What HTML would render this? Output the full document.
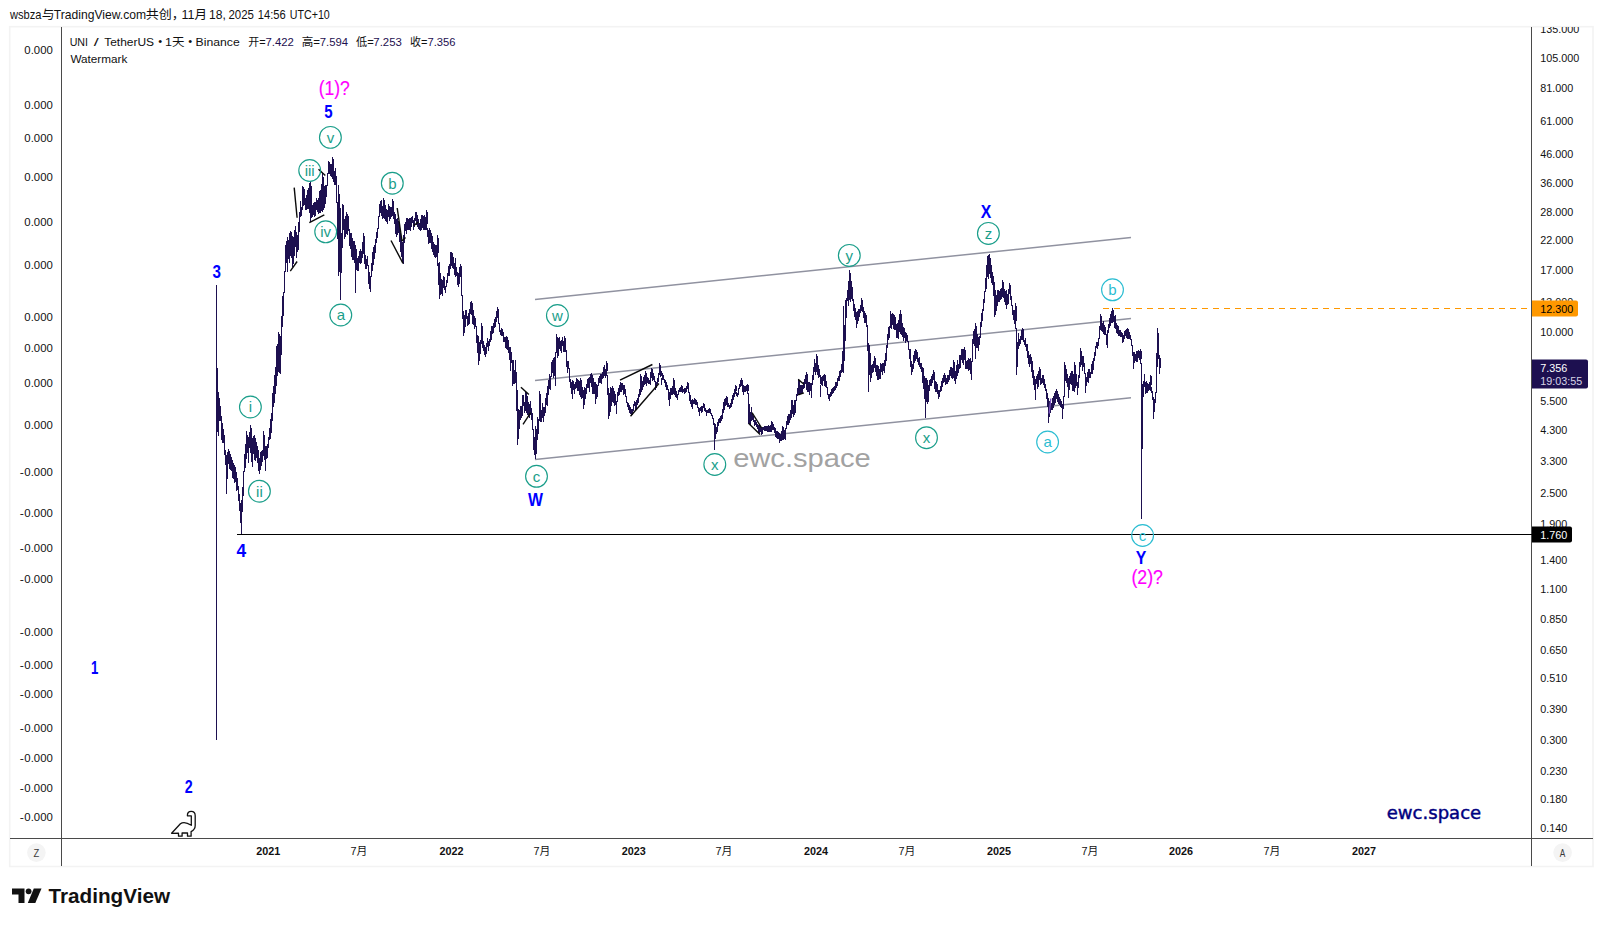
<!DOCTYPE html><html><head><meta charset="utf-8"><title>UNI / TetherUS</title>
<style>html,body{margin:0;padding:0;background:#fff;}body{width:1603px;height:926px;overflow:hidden;position:relative;font-family:"Liberation Sans", "Noto Sans CJK SC", sans-serif;}
svg{position:absolute;left:0;top:0;}text{font-family:"Liberation Sans", "Noto Sans CJK SC", sans-serif;}
.ax{font-size:10.8px;fill:#111;}.axb{font-size:10.8px;font-weight:bold;fill:#111;}
</style></head><body>
<svg width="1603" height="926" viewBox="0 0 1603 926">
<rect x="9.7" y="26.7" width="1583.3" height="839.8" fill="#fff" stroke="#f3f3f3" stroke-width="1.6"/>
<g stroke="#4a4a4a" stroke-width="1" shape-rendering="crispEdges">
<line x1="61.5" y1="27" x2="61.5" y2="866"/>
<line x1="1531.5" y1="27" x2="1531.5" y2="866"/>
<line x1="10" y1="838.5" x2="1593" y2="838.5"/>
</g>
<clipPath id="cr"><rect x="1532" y="27" width="61" height="812"/></clipPath><g clip-path="url(#cr)">
<text class="ax" x="1540.2" y="33.0">135.000</text>
<text class="ax" x="1540.2" y="62.0">105.000</text>
<text class="ax" x="1540.2" y="92.0">81.000</text>
<text class="ax" x="1540.2" y="125.0">61.000</text>
<text class="ax" x="1540.2" y="158.0">46.000</text>
<text class="ax" x="1540.2" y="187.0">36.000</text>
<text class="ax" x="1540.2" y="216.0">28.000</text>
<text class="ax" x="1540.2" y="244.0">22.000</text>
<text class="ax" x="1540.2" y="274.0">17.000</text>
<text class="ax" x="1540.2" y="306.0">13.000</text>
<text class="ax" x="1540.2" y="336.0">10.000</text>
<text class="ax" x="1540.2" y="405.0">5.500</text>
<text class="ax" x="1540.2" y="434.0">4.300</text>
<text class="ax" x="1540.2" y="465.0">3.300</text>
<text class="ax" x="1540.2" y="497.0">2.500</text>
<text class="ax" x="1540.2" y="528.0">1.900</text>
<text class="ax" x="1540.2" y="564.0">1.400</text>
<text class="ax" x="1540.2" y="593.0">1.100</text>
<text class="ax" x="1540.2" y="623.0">0.850</text>
<text class="ax" x="1540.2" y="654.0">0.650</text>
<text class="ax" x="1540.2" y="682.0">0.510</text>
<text class="ax" x="1540.2" y="713.0">0.390</text>
<text class="ax" x="1540.2" y="744.0">0.300</text>
<text class="ax" x="1540.2" y="774.8">0.230</text>
<text class="ax" x="1540.2" y="802.8">0.180</text>
<text class="ax" x="1540.2" y="832.0">0.140</text>
</g>
<text class="axb" x="268.2" y="855" text-anchor="middle">2021</text>
<text class="ax" x="358.8" y="855" text-anchor="middle">7月</text>
<text class="axb" x="451.6" y="855" text-anchor="middle">2022</text>
<text class="ax" x="541.8" y="855" text-anchor="middle">7月</text>
<text class="axb" x="633.8" y="855" text-anchor="middle">2023</text>
<text class="ax" x="724.0" y="855" text-anchor="middle">7月</text>
<text class="axb" x="816.0" y="855" text-anchor="middle">2024</text>
<text class="ax" x="907.0" y="855" text-anchor="middle">7月</text>
<text class="axb" x="999.0" y="855" text-anchor="middle">2025</text>
<text class="ax" x="1090.0" y="855" text-anchor="middle">7月</text>
<text class="axb" x="1181.0" y="855" text-anchor="middle">2026</text>
<text class="ax" x="1272.0" y="855" text-anchor="middle">7月</text>
<text class="axb" x="1364.0" y="855" text-anchor="middle">2027</text>
<g stroke="#9092a0" stroke-width="1.5" fill="none">
<line x1="535" y1="299.4" x2="1131" y2="237.5"/>
<line x1="535" y1="380.4" x2="1131" y2="318.5"/>
<line x1="535" y1="459.6" x2="1131" y2="397.7"/>
</g>
<line x1="237" y1="534.5" x2="1532" y2="534.5" stroke="#000" stroke-width="1" shape-rendering="crispEdges"/>
<line x1="1103" y1="308.5" x2="1532" y2="308.5" stroke="#ff9800" stroke-width="1" stroke-dasharray="5.5 5.5" shape-rendering="crispEdges"/>
<path d="M216.5 285V739.5M217.5 368.0V431.6M218.5 392.0V436.4M219.5 397.5V420.6M220.5 405.6V421.3M221.5 416.3V439.5M222.5 422.9V443.2M223.5 429.1V443.3M224.5 434.5V454.8M225.5 450.2V465.2M226.5 464.2V491.4M227.5 452.0V478.6M228.5 449.3V463.6M229.5 457.0V469.1M230.5 454.1V469.5M231.5 457.1V470.9M232.5 460.3V477.6M233.5 463.2V478.5M234.5 465.3V482.6M235.5 467.3V481.9M236.5 472.1V490.5M237.5 478.2V489.8M238.5 486.1V500.7M239.5 494.3V511.4M240.5 502.9V523.1M241.5 500.2V530.2M242.5 487.2V511.5M243.5 470.5V496.1M244.5 453.8V471.5M245.5 444.0V468.2M246.5 436.9V459.3M247.5 436.2V452.2M248.5 437.3V451.3M249.5 432.1V447.6M250.5 425.9V452.7M251.5 434.6V462.4M252.5 438.0V461.5M253.5 436.1V453.9M254.5 442.0V459.8M255.5 441.5V461.1M256.5 442.1V457.5M257.5 445.7V463.0M258.5 449.8V470.6M259.5 458.2V473.6M260.5 452.3V469.5M261.5 450.9V465.5M262.5 450.3V462.3M263.5 438.6V455.8M264.5 440.1V459.9M265.5 446.4V461.3M266.5 445.6V459.4M267.5 444.0V457.6M268.5 436.8V448.2M269.5 428.4V439.8M270.5 418.6V438.9M271.5 413.2V432.8M272.5 393.2V420.7M273.5 385.5V406.6M274.5 375.1V402.5M275.5 366.6V394.2M276.5 346.3V386.1M277.5 343.6V376.4M278.5 342.4V372.2M279.5 334.1V373.0M280.5 335.8V373.9M281.5 315.8V354.9M282.5 295.9V327.3M283.5 292.2V315.6M284.5 270.9V293.2M285.5 245.1V271.9M286.5 240.8V263.4M287.5 237.0V262.6M288.5 239.8V259.3M289.5 232.7V262.8M290.5 231.1V256.0M291.5 231.9V254.6M292.5 236.4V266.7M293.5 237.3V263.9M294.5 230.4V256.4M295.5 226.3V246.9M296.5 231.5V258.0M297.5 234.9V252.0M298.5 221.6V250.0M299.5 211.9V232.0M300.5 200.8V216.7M301.5 207.4V216.2M302.5 190.9V210.3M303.5 187.1V205.7M304.5 188.7V204.9M305.5 197.6V210.2M306.5 194.7V209.5M307.5 189.9V209.3M308.5 188.1V209.0M309.5 182.6V213.2M310.5 190.8V218.9M311.5 199.8V218.3M312.5 204.8V216.6M313.5 203.2V214.5M314.5 202.2V217.1M315.5 201.6V215.7M316.5 198.2V210.2M317.5 200.3V211.6M318.5 197.8V213.6M319.5 190.7V213.2M320.5 190.2V212.8M321.5 183.8V211.3M322.5 179.1V211.6M323.5 177.1V209.6M324.5 185.7V207.6M325.5 184.5V204.4M326.5 185.1V196.5M327.5 172.9V186.1M328.5 160.6V174.3M329.5 161.5V173.6M330.5 164.1V175.9M331.5 163.6V176.6M332.5 166.3V178.7M333.5 166.4V182.1M334.5 171.3V185.4M335.5 168.1V185.3M336.5 176.4V203.0M337.5 202.0V239.3M338.5 191.0V265.2M339.5 194.3V272.1M340.5 207.8V250.0M341.5 233.1V273.0M342.5 223.3V248.4M343.5 204.7V226.6M344.5 218.9V239.2M345.5 215.8V236.5M346.5 211.6V233.8M347.5 213.8V234.6M348.5 215.6V230.6M349.5 229.4V245.9M350.5 232.7V249.0M351.5 233.3V257.0M352.5 238.2V260.4M353.5 240.5V259.6M354.5 241.1V263.4M355.5 245.4V267.2M356.5 249.4V269.9M357.5 257.7V271.0M358.5 255.6V270.6M359.5 250.8V262.7M360.5 248.9V263.9M361.5 251.3V263.3M362.5 242.1V257.8M363.5 234.7V254.0M364.5 245.2V263.8M365.5 254.8V269.2M366.5 258.5V269.4M367.5 256.1V266.2M368.5 265.2V283.9M369.5 272.4V289.0M370.5 275.9V288.2M371.5 263.2V277.0M372.5 251.6V271.1M373.5 247.4V265.4M374.5 245.3V258.6M375.5 238.7V252.8M376.5 232.4V242.5M377.5 227.5V237.6M378.5 215.6V228.5M379.5 204.0V216.6M380.5 201.1V212.6M381.5 199.9V215.7M382.5 206.0V218.6M383.5 202.8V218.0M384.5 206.7V218.7M385.5 205.4V220.9M386.5 209.1V222.3M387.5 209.6V222.5M388.5 204.4V217.2M389.5 206.3V221.0M390.5 206.5V219.3M391.5 207.0V217.4M392.5 202.3V216.1M393.5 204.2V218.5M394.5 211.7V224.2M395.5 214.1V233.9M396.5 218.9V237.0M397.5 218.3V235.0M398.5 221.3V233.3M399.5 224.5V241.8M400.5 233.3V251.6M401.5 240.1V256.9M402.5 242.4V261.9M403.5 242.4V258.7M404.5 224.4V243.4M405.5 222.0V230.7M406.5 220.0V234.3M407.5 217.8V229.4M408.5 218.5V229.8M409.5 218.1V230.0M410.5 217.8V230.5M411.5 217.0V227.2M412.5 215.8V222.5M413.5 219.9V230.0M414.5 217.6V227.3M415.5 212.2V220.5M416.5 212.0V224.9M417.5 215.0V226.8M418.5 219.4V229.4M419.5 222.5V230.3M420.5 219.3V229.6M421.5 214.8V229.6M422.5 215.2V227.7M423.5 216.1V230.2M424.5 215.4V229.9M425.5 217.4V229.6M426.5 217.1V230.1M427.5 228.2V236.8M428.5 230.0V243.6M429.5 228.0V242.8M430.5 230.4V242.8M431.5 233.2V249.4M432.5 235.6V251.5M433.5 241.7V255.2M434.5 243.6V256.7M435.5 245.0V258.2M436.5 244.5V257.0M437.5 244.8V266.4M438.5 263.2V284.6M439.5 262.5V290.2M440.5 272.6V294.9M441.5 278.5V293.8M442.5 280.3V295.9M443.5 276.3V287.9M444.5 276.8V290.1M445.5 285.6V292.9M446.5 279.5V287.1M447.5 272.9V282.5M448.5 265.7V276.3M449.5 263.8V276.4M450.5 258.9V269.2M451.5 252.3V265.3M452.5 252.6V268.1M453.5 257.2V268.6M454.5 262.9V274.7M455.5 258.2V277.1M456.5 267.4V275.7M457.5 271.9V285.2M458.5 273.4V284.2M459.5 267.3V284.1M460.5 264.1V276.8M461.5 275.8V296.2M462.5 295.2V319.3M463.5 310.9V334.7M464.5 315.2V333.4M465.5 310.0V326.5M466.5 309.6V319.0M467.5 315.8V325.5M468.5 312.7V325.3M469.5 309.0V323.5M470.5 302.3V313.9M471.5 304.9V314.6M472.5 307.4V324.2M473.5 310.3V324.7M474.5 315.9V328.7M475.5 318.0V327.0M476.5 326.0V343.0M477.5 334.8V352.5M478.5 336.9V351.3M479.5 342.3V360.6M480.5 339.9V353.6M481.5 329.4V344.2M482.5 330.7V348.3M483.5 340.6V351.2M484.5 344.8V354.6M485.5 346.6V356.2M486.5 342.7V354.4M487.5 338.0V346.9M488.5 341.0V350.7M489.5 339.4V346.4M490.5 331.0V342.4M491.5 326.4V340.3M492.5 325.6V334.4M493.5 322.9V332.7M494.5 319.0V328.4M495.5 317.0V326.5M496.5 310.8V321.7M497.5 306.5V315.7M498.5 314.0V323.7M499.5 322.7V331.9M500.5 329.8V334.8M501.5 328.4V336.4M502.5 329.2V336.1M503.5 332.0V341.5M504.5 336.7V342.2M505.5 337.2V348.1M506.5 336.0V348.9M507.5 337.3V350.0M508.5 340.4V353.2M509.5 347.3V359.8M510.5 347.4V371.0M511.5 352.1V362.5M512.5 360.0V378.9M513.5 360.2V384.2M514.5 369.8V383.5M515.5 360.3V382.7M516.5 371.8V410.7M517.5 400.1V437.8M518.5 408.5V439.1M519.5 409.8V429.2M520.5 406.4V420.4M521.5 406.0V418.0M522.5 395.4V416.4M523.5 395.0V406.1M524.5 401.6V413.1M525.5 399.9V411.4M526.5 397.9V413.4M527.5 396.0V415.2M528.5 402.0V416.9M529.5 403.5V418.1M530.5 400.6V415.2M531.5 407.8V420.2M532.5 413.1V429.8M533.5 428.8V450.0M534.5 436.6V455.1M535.5 426.0V449.8M536.5 428.6V453.6M537.5 417.0V440.0M538.5 418.7V434.3M539.5 393.5V420.6M540.5 398.7V421.5M541.5 410.3V421.8M542.5 402.6V418.0M543.5 406.9V418.0M544.5 406.6V416.1M545.5 397.9V412.7M546.5 392.6V404.6M547.5 386.1V405.6M548.5 380.0V395.4M549.5 374.0V389.1M550.5 375.5V389.7M551.5 362.0V376.5M552.5 360.0V373.2M553.5 358.0V378.3M554.5 356.5V376.2M555.5 352.1V376.8M556.5 337.4V353.1M557.5 341.0V357.7M558.5 338.2V356.1M559.5 336.6V348.7M560.5 340.8V350.8M561.5 339.8V352.8M562.5 336.7V345.7M563.5 340.5V351.5M564.5 341.5V352.2M565.5 341.5V352.3M566.5 349.6V366.5M567.5 360.6V372.5M568.5 361.1V369.4M569.5 368.4V382.2M570.5 379.3V388.4M571.5 381.9V394.3M572.5 379.8V396.1M573.5 380.6V390.2M574.5 383.7V393.9M575.5 381.8V389.2M576.5 377.8V387.5M577.5 380.9V390.8M578.5 379.5V391.1M579.5 380.8V394.5M580.5 383.7V397.2M581.5 384.2V398.9M582.5 386.6V397.9M583.5 389.7V402.8M584.5 387.1V404.7M585.5 388.1V399.3M586.5 384.4V394.3M587.5 379.3V388.3M588.5 378.2V388.2M589.5 376.5V391.5M590.5 374.0V383.2M591.5 372.7V387.4M592.5 375.8V394.1M593.5 378.4V393.9M594.5 381.5V393.8M595.5 382.3V392.9M596.5 384.3V399.4M597.5 384.5V396.5M598.5 377.8V385.5M599.5 375.7V383.2M600.5 373.5V382.9M601.5 373.5V383.9M602.5 371.8V379.2M603.5 367.0V378.3M604.5 365.2V375.9M605.5 368.6V377.5M606.5 367.1V375.5M607.5 374.5V394.6M608.5 393.6V419.0M609.5 392.5V415.7M610.5 387.2V411.8M611.5 387.9V405.9M612.5 388.1V402.4M613.5 388.5V403.1M614.5 391.2V406.4M615.5 393.8V405.0M616.5 401.4V409.7M617.5 391.5V402.4M618.5 387.7V395.7M619.5 385.3V394.7M620.5 384.2V391.7M621.5 382.6V390.2M622.5 383.3V389.9M623.5 384.6V394.7M624.5 384.7V394.3M625.5 389.1V396.9M626.5 395.9V403.4M627.5 401.7V406.5M628.5 402.8V409.8M629.5 404.5V412.5M630.5 406.5V414.4M631.5 411.1V415.7M632.5 408.7V414.7M633.5 403.9V411.4M634.5 401.4V406.2M635.5 402.1V409.6M636.5 400.2V410.2M637.5 398.2V405.3M638.5 394.3V403.2M639.5 388.8V397.1M640.5 381.9V395.0M641.5 379.8V392.3M642.5 381.4V389.5M643.5 376.6V387.2M644.5 374.8V385.1M645.5 372.6V383.7M646.5 375.6V386.4M647.5 377.3V383.3M648.5 377.5V384.0M649.5 379.6V384.3M650.5 372.0V382.3M651.5 368.8V378.4M652.5 374.2V380.5M653.5 373.2V380.3M654.5 375.9V382.2M655.5 381.2V388.1M656.5 382.1V387.9M657.5 378.3V384.1M658.5 373.3V381.5M659.5 368.7V375.3M660.5 366.4V377.2M661.5 370.7V376.4M662.5 373.2V380.4M663.5 374.5V379.7M664.5 378.6V383.3M665.5 380.2V386.9M666.5 382.2V390.0M667.5 384.5V390.0M668.5 389.0V400.0M669.5 392.4V404.2M670.5 387.9V398.6M671.5 387.6V395.1M672.5 386.1V394.9M673.5 385.8V393.8M674.5 385.2V395.3M675.5 387.8V397.1M676.5 390.6V397.8M677.5 393.5V397.6M678.5 389.6V395.0M679.5 387.9V392.3M680.5 387.0V392.2M681.5 388.5V392.0M682.5 388.1V393.2M683.5 388.5V392.4M684.5 388.2V391.9M685.5 387.7V392.7M686.5 385.9V391.5M687.5 383.7V389.0M688.5 387.5V393.3M689.5 392.3V400.9M690.5 395.0V403.9M691.5 400.0V406.6M692.5 398.7V405.2M693.5 400.2V403.5M694.5 399.9V404.1M695.5 399.9V405.3M696.5 399.5V404.6M697.5 402.2V407.8M698.5 406.8V412.3M699.5 408.2V415.5M700.5 406.5V411.2M701.5 405.9V412.5M702.5 405.5V411.7M703.5 404.2V408.0M704.5 406.2V411.2M705.5 408.4V411.6M706.5 410.2V413.2M707.5 409.7V412.7M708.5 409.4V412.8M709.5 410.3V413.3M710.5 410.8V414.4M711.5 412.9V416.3M712.5 415.3V419.3M713.5 418.3V425.0M714.5 423.0V443.2M715.5 423.5V439.4M716.5 426.8V434.4M717.5 421.5V431.5M718.5 418.7V426.3M719.5 417.8V422.8M720.5 415.9V422.9M721.5 414.5V421.1M722.5 408.5V418.9M723.5 402.3V412.8M724.5 398.7V410.1M725.5 397.6V406.0M726.5 397.2V404.8M727.5 399.0V407.0M728.5 402.6V407.3M729.5 404.9V408.6M730.5 402.7V408.2M731.5 399.3V406.8M732.5 395.2V403.9M733.5 392.6V400.4M734.5 388.5V396.8M735.5 387.7V394.1M736.5 391.8V395.6M737.5 393.8V396.8M738.5 388.4V394.8M739.5 384.1V389.4M740.5 380.4V386.6M741.5 378.8V386.4M742.5 384.0V391.9M743.5 385.4V392.0M744.5 386.3V391.6M745.5 386.0V391.9M746.5 384.8V390.9M747.5 386.0V394.1M748.5 393.1V415.1M749.5 403.6V424.3M750.5 411.6V424.7M751.5 407.4V421.4M752.5 412.6V420.3M753.5 415.7V422.4M754.5 419.7V426.2M755.5 419.9V425.3M756.5 421.6V427.2M757.5 423.6V429.1M758.5 424.7V432.7M759.5 425.4V433.1M760.5 426.2V431.5M761.5 428.1V433.0M762.5 426.9V434.1M763.5 426.5V429.5M764.5 426.1V431.1M765.5 426.3V431.2M766.5 425.9V431.2M767.5 425.8V432.0M768.5 424.9V432.0M769.5 425.9V432.0M770.5 425.0V432.0M771.5 422.5V432.0M772.5 424.3V430.0M773.5 424.1V430.2M774.5 426.9V433.0M775.5 428.2V436.5M776.5 431.2V438.0M777.5 430.7V438.7M778.5 432.4V439.1M779.5 433.3V441.2M780.5 433.6V440.9M781.5 430.5V441.2M782.5 430.2V440.4M783.5 429.6V440.2M784.5 429.8V439.2M785.5 428.3V436.2M786.5 421.1V429.3M787.5 416.0V424.6M788.5 414.0V424.9M789.5 413.5V422.8M790.5 409.9V420.4M791.5 403.4V418.0M792.5 400.3V413.6M793.5 405.1V416.8M794.5 400.4V414.8M795.5 399.7V412.6M796.5 393.5V401.1M797.5 388.0V395.6M798.5 382.5V394.7M799.5 384.3V394.4M800.5 385.4V394.0M801.5 385.4V393.7M802.5 385.3V393.2M803.5 381.8V388.8M804.5 379.2V388.2M805.5 374.8V384.2M806.5 375.2V390.3M807.5 382.4V392.0M808.5 381.7V391.7M809.5 381.5V395.0M810.5 383.1V391.0M811.5 382.6V390.6M812.5 374.5V384.6M813.5 366.5V379.6M814.5 359.0V371.7M815.5 362.6V374.7M816.5 363.2V372.2M817.5 364.8V375.1M818.5 364.8V378.4M819.5 369.2V377.0M820.5 374.8V384.3M821.5 376.5V384.6M822.5 375.7V385.5M823.5 374.9V380.7M824.5 376.0V386.1M825.5 377.8V386.6M826.5 380.5V387.6M827.5 386.6V394.8M828.5 393.8V398.6M829.5 394.3V399.7M830.5 391.7V397.3M831.5 389.2V395.9M832.5 387.7V394.0M833.5 387.3V393.3M834.5 385.9V391.3M835.5 382.3V389.8M836.5 382.0V387.5M837.5 377.8V385.6M838.5 375.8V380.5M839.5 371.4V380.6M840.5 370.1V377.0M841.5 363.7V373.4M842.5 351.0V372.3M843.5 340.9V371.0M844.5 325.0V360.7M845.5 300.2V341.0M846.5 297.9V318.3M847.5 290.2V300.9M848.5 281.1V305.7M849.5 277.0V299.8M850.5 281.8V301.8M851.5 281.3V298.7M852.5 286.6V301.4M853.5 299.1V310.7M854.5 303.9V316.7M855.5 307.8V320.2M856.5 311.8V327.3M857.5 311.0V324.1M858.5 309.4V320.5M859.5 309.3V317.0M860.5 304.6V313.4M861.5 301.4V310.7M862.5 305.4V311.7M863.5 306.9V317.9M864.5 310.7V322.9M865.5 312.9V323.3M866.5 314.8V327.0M867.5 324.7V351.1M868.5 342.5V364.2M869.5 345.1V374.8M870.5 352.8V382.0M871.5 365.0V377.5M872.5 364.2V373.0M873.5 361.4V371.7M874.5 355.5V368.4M875.5 358.0V371.8M876.5 365.0V376.3M877.5 364.5V378.4M878.5 366.2V379.7M879.5 368.5V379.4M880.5 362.8V379.0M881.5 363.5V371.8M882.5 362.5V374.7M883.5 363.3V371.3M884.5 360.1V373.0M885.5 353.2V366.3M886.5 345.0V361.1M887.5 334.2V348.1M888.5 327.2V339.7M889.5 326.3V337.5M890.5 315.2V328.2M891.5 314.2V328.5M892.5 313.0V325.3M893.5 313.9V329.1M894.5 314.9V329.6M895.5 317.0V329.6M896.5 323.7V337.9M897.5 322.6V338.4M898.5 319.7V338.9M899.5 313.9V332.4M900.5 314.7V333.8M901.5 316.4V335.4M902.5 323.3V337.2M903.5 326.6V341.4M904.5 327.8V337.6M905.5 331.6V343.0M906.5 333.1V340.9M907.5 335.0V342.0M908.5 340.5V349.7M909.5 348.7V359.0M910.5 348.6V366.6M911.5 361.5V373.5M912.5 363.6V371.7M913.5 355.3V369.2M914.5 350.5V363.4M915.5 351.0V361.1M916.5 350.4V358.7M917.5 352.0V361.9M918.5 357.7V364.8M919.5 357.0V366.8M920.5 362.8V369.3M921.5 362.7V371.9M922.5 366.6V383.0M923.5 368.3V389.4M924.5 375.7V398.7M925.5 377.9V397.9M926.5 378.4V401.7M927.5 380.4V404.1M928.5 385.0V402.0M929.5 379.9V390.7M930.5 378.7V386.2M931.5 375.7V386.2M932.5 373.7V383.3M933.5 369.8V379.8M934.5 372.9V388.7M935.5 381.1V392.1M936.5 382.3V391.8M937.5 384.3V394.2M938.5 390.3V398.8M939.5 390.3V396.8M940.5 385.5V391.8M941.5 381.0V390.8M942.5 377.6V386.5M943.5 374.9V382.7M944.5 372.9V381.5M945.5 374.7V384.6M946.5 377.5V383.6M947.5 375.2V384.1M948.5 374.7V381.6M949.5 369.5V379.8M950.5 367.3V376.1M951.5 366.5V377.6M952.5 367.9V378.7M953.5 365.9V378.3M954.5 367.4V381.0M955.5 370.6V379.6M956.5 365.0V378.8M957.5 359.8V375.7M958.5 364.1V372.7M959.5 355.3V369.0M960.5 354.9V368.3M961.5 349.2V359.6M962.5 349.2V363.1M963.5 349.3V365.0M964.5 347.0V358.9M965.5 350.7V368.6M966.5 360.8V369.0M967.5 360.2V369.3M968.5 357.9V370.8M969.5 358.8V370.1M970.5 357.9V374.4M971.5 361.1V377.7M972.5 339.4V362.1M973.5 331.2V344.0M974.5 328.8V346.4M975.5 329.9V348.3M976.5 326.3V341.8M977.5 333.5V348.2M978.5 336.7V350.7M979.5 335.5V345.4M980.5 322.2V337.5M981.5 312.8V327.3M982.5 308.6V320.9M983.5 299.2V310.9M984.5 290.7V303.0M985.5 277.6V291.7M986.5 264.5V289.0M987.5 256.2V276.5M988.5 255.2V278.9M989.5 255.4V273.2M990.5 259.7V273.4M991.5 264.5V283.2M992.5 272.4V285.1M993.5 275.8V296.3M994.5 281.6V307.0M995.5 289.6V314.5M996.5 294.8V311.1M997.5 290.0V306.2M998.5 290.1V302.1M999.5 290.6V302.0M1000.5 289.3V300.3M1001.5 287.7V298.7M1002.5 287.5V297.0M1003.5 285.5V298.1M1004.5 289.0V301.6M1005.5 291.2V305.3M1006.5 290.3V303.6M1007.5 294.4V304.9M1008.5 288.8V303.5M1009.5 283.0V293.4M1010.5 287.8V300.4M1011.5 296.0V306.2M1012.5 305.2V315.2M1013.5 310.1V319.7M1014.5 310.3V324.1M1015.5 314.2V328.6M1016.5 327.6V363.8M1017.5 341.8V366.8M1018.5 332.5V349.3M1019.5 339.0V346.2M1020.5 335.5V344.2M1021.5 329.9V339.5M1022.5 332.1V340.2M1023.5 335.9V341.9M1024.5 339.8V344.6M1025.5 338.2V347.2M1026.5 343.6V350.8M1027.5 344.2V358.0M1028.5 350.5V364.1M1029.5 355.4V366.7M1030.5 354.3V363.5M1031.5 357.3V372.1M1032.5 361.1V377.8M1033.5 370.0V385.4M1034.5 376.4V389.8M1035.5 378.7V391.6M1036.5 375.6V383.8M1037.5 373.8V388.7M1038.5 371.0V386.8M1039.5 367.3V380.4M1040.5 376.2V384.6M1041.5 378.1V384.4M1042.5 375.1V383.1M1043.5 374.7V384.6M1044.5 379.4V388.0M1045.5 383.5V390.9M1046.5 389.3V398.7M1047.5 393.0V407.3M1048.5 397.8V410.0M1049.5 401.4V416.6M1050.5 398.8V412.8M1051.5 402.6V409.7M1052.5 398.2V410.2M1053.5 395.5V407.9M1054.5 393.3V404.7M1055.5 391.3V402.6M1056.5 389.6V399.3M1057.5 392.0V402.1M1058.5 394.3V404.1M1059.5 397.4V404.7M1060.5 399.1V407.1M1061.5 401.1V408.4M1062.5 403.7V413.1M1063.5 396.0V409.3M1064.5 368.5V397.0M1065.5 364.9V377.7M1066.5 369.4V383.3M1067.5 373.8V387.4M1068.5 378.3V390.9M1069.5 375.7V389.9M1070.5 373.1V383.8M1071.5 370.6V385.1M1072.5 371.3V391.3M1073.5 374.2V391.4M1074.5 376.2V391.6M1075.5 365.8V388.2M1076.5 373.8V386.1M1077.5 381.5V393.1M1078.5 374.8V387.8M1079.5 362.2V377.5M1080.5 351.0V367.1M1081.5 352.3V365.1M1082.5 355.7V370.9M1083.5 356.2V367.1M1084.5 362.7V374.1M1085.5 373.1V383.7M1086.5 376.8V385.8M1087.5 371.9V381.7M1088.5 369.1V382.7M1089.5 368.5V377.9M1090.5 371.8V377.8M1091.5 363.6V374.3M1092.5 361.1V373.7M1093.5 358.2V370.3M1094.5 352.3V361.4M1095.5 346.4V356.2M1096.5 341.8V347.6M1097.5 341.9V349.1M1098.5 338.4V346.2M1099.5 325.8V339.4M1100.5 315.1V330.0M1101.5 318.8V330.5M1102.5 322.9V332.0M1103.5 321.0V334.3M1104.5 325.2V335.3M1105.5 327.2V334.7M1106.5 333.7V344.8M1107.5 329.5V343.8M1108.5 323.6V332.9M1109.5 317.7V328.1M1110.5 314.0V325.5M1111.5 310.7V323.2M1112.5 307.6V323.0M1113.5 312.0V322.0M1114.5 315.7V328.2M1115.5 315.0V328.6M1116.5 322.9V332.8M1117.5 325.3V334.1M1118.5 325.7V335.5M1119.5 330.3V335.8M1120.5 330.3V336.6M1121.5 331.7V337.3M1122.5 332.9V339.9M1123.5 334.5V341.9M1124.5 330.5V338.5M1125.5 329.5V336.0M1126.5 329.1V338.1M1127.5 329.6V339.3M1128.5 330.5V339.3M1129.5 331.8V339.3M1130.5 335.1V340.1M1131.5 339.1V345.6M1132.5 344.6V356.3M1133.5 352.2V361.6M1134.5 352.2V362.8M1135.5 354.0V360.8M1136.5 351.2V362.4M1137.5 350.7V361.9M1138.5 350.1V358.3M1139.5 351.0V359.7M1140.5 353.9V363.7M1141.5 362.7V519.0M1142.5 383.8V449.2M1143.5 380.9V396.7M1144.5 374.4V386.6M1145.5 381.8V393.5M1146.5 381.4V393.0M1147.5 383.4V392.9M1148.5 383.6V391.3M1149.5 381.9V390.2M1150.5 382.4V390.6M1151.5 387.0V392.7M1152.5 391.3V399.9M1153.5 397.4V414.4M1154.5 399.1V412.2M1155.5 392.0V402.5M1156.5 353.4V393.0M1157.5 332.6V359.1M1158.5 344.7V359.1M1159.5 355.0V362.6M1160.5 358.0V368.3M226.5 468.6V494.0M228.5 449.3V459.2M229.5 451.3V460.9M241.5 515.4V534.0M246.5 431.0V450.0M247.5 434.8V453.1M248.5 447.6V462.6M250.5 425.0V441.0M251.5 428.2V443.7M252.5 450.3V467.3M254.5 434.5V449.5M255.5 437.5V452.0M259.5 461.7V474.4M263.5 431.3V448.2M264.5 434.7V451.0M265.5 456.4V470.5M278.5 332.0V356.0M279.5 336.8V360.0M280.5 351.2V374.0M287.5 251.0V272.0M290.5 231.0V254.4M291.5 235.7V258.3M302.5 186.0V199.2M303.5 188.6V201.4M310.5 181.0V205.6M311.5 185.9V209.7M310.5 197.4V222.0M322.5 173.0V196.4M323.5 177.7V200.3M332.5 156.5V168.8M333.5 159.0V170.8M340.5 244.8V300.0M342.5 204.0V226.2M343.5 208.4V229.9M355.5 264.0V292.6M363.5 233.0V247.2M364.5 235.8V249.5M370.5 277.4V291.6M383.5 198.0V209.9M384.5 200.4V211.9M387.5 213.0V223.6M392.5 199.0V210.3M393.5 201.3V212.2M403.5 244.4V264.4M406.5 217.8V228.1M407.5 219.9V229.8M415.5 212.0V221.3M416.5 213.9V222.8M420.5 219.6V231.0M426.5 210.0V221.6M427.5 212.3V223.6M437.5 235.0V250.3M438.5 238.1V252.8M439.5 276.1V299.4M450.5 252.0V263.7M451.5 254.3V265.6M458.5 276.2V287.0M460.5 263.7V274.6M461.5 265.9V276.4M463.5 319.1V336.0M471.5 301.0V312.8M472.5 303.4V314.8M478.5 346.1V364.8M481.5 323.0V337.2M482.5 325.8V339.5M485.5 347.7V357.0M497.5 306.5V318.2M498.5 308.8V320.1M512.5 366.8V385.5M517.5 409.3V445.0M525.5 390.7V403.1M526.5 393.2V405.2M535.5 440.0V459.4M539.5 390.7V409.4M540.5 394.4V412.5M543.5 412.3V421.8M555.5 366.8V385.5M556.5 333.7V349.2M557.5 336.8V351.8M564.5 335.8V345.4M565.5 337.7V347.0M572.5 386.0V398.5M576.5 377.7V385.5M577.5 379.3V386.8M580.5 377.7V388.7M581.5 379.9V390.5M583.5 396.4V409.0M591.5 372.6V383.5M592.5 374.8V385.3M595.5 391.3V403.7M606.5 361.0V369.4M607.5 362.7V370.8M608.5 398.9V419.0M612.5 385.5V397.8M613.5 388.0V399.9M616.5 403.2V414.0M620.5 381.6V390.2M621.5 383.3V391.7M631.5 409.1V415.9M640.5 373.9V385.2M641.5 376.2V387.1M645.5 371.3V381.5M646.5 373.3V383.2M650.5 377.7V384.5M651.5 367.8V375.1M652.5 369.3V376.3M655.5 384.8V389.8M659.5 362.9V371.8M660.5 364.7V373.3M661.5 377.5V385.2M669.5 395.5V406.4M673.5 378.0V387.8M674.5 380.0V389.4M677.5 395.8V400.4M681.5 385.2V389.8M682.5 386.1V390.5M684.5 390.3V394.3M687.5 382.2V386.8M688.5 383.1V387.5M692.5 402.8V408.7M694.5 398.0V402.0M695.5 398.6V402.0M699.5 411.2V416.2M703.5 403.4V407.9M704.5 404.3V408.6M706.5 411.5V415.5M709.5 408.3V412.3M710.5 408.8V412.3M714.5 433.3V449.9M726.5 396.2V402.3M727.5 397.4V403.3M729.5 405.4V409.4M735.5 384.5V390.4M736.5 385.7V391.4M737.5 392.6V396.6M741.5 377.8V386.1M742.5 379.5V387.5M743.5 389.9V394.8M747.5 384.3V389.6M748.5 385.4V390.5M761.5 430.4V435.3M771.5 420.7V427.5M772.5 422.1V428.6M779.5 436.2V442.6M782.5 425.6V434.4M783.5 427.4V435.8M785.5 434.3V440.2M791.5 399.7V410.4M792.5 401.8V412.2M798.5 378.6V388.3M799.5 380.5V389.9M806.5 372.0V382.8M807.5 374.2V384.6M811.5 390.2V398.0M816.5 354.3V364.0M817.5 356.2V365.6M820.5 385.1V397.2M824.5 373.7V380.5M825.5 375.1V381.6M829.5 394.2V400.5M843.5 331.6V373.0M849.5 269.7V287.5M850.5 273.3V290.5M856.5 315.1V328.0M861.5 298.2V306.1M862.5 299.8V307.4M868.5 362.0V392.0M877.5 367.3V380.0M890.5 311.3V324.1M891.5 313.9V326.3M900.5 310.0V327.9M901.5 313.6V330.9M911.5 361.2V375.4M915.5 349.3V357.8M916.5 351.0V359.2M925.5 394.0V418.2M933.5 369.5V380.2M934.5 371.6V382.0M938.5 392.1V399.2M953.5 360.0V370.7M954.5 362.1V372.5M955.5 374.5V383.7M964.5 347.0V359.8M965.5 349.6V361.9M971.5 365.9V380.2M975.5 323.2V344.6M976.5 327.5V348.1M975.5 337.4V358.8M989.5 254.3V274.2M990.5 258.3V277.5M994.5 296.6V317.2M1002.5 280.4V290.4M1003.5 282.4V292.0M1006.5 297.6V309.0M1009.5 282.8V294.2M1010.5 285.1V296.1M1015.5 303.0V318.6M1016.5 306.1V321.2M1016.5 347.6V375.4M1022.5 328.0V335.1M1023.5 329.4V336.3M1035.5 388.3V400.4M1039.5 367.0V379.2M1040.5 369.4V381.2M1048.5 408.7V423.0M1056.5 389.3V397.0M1057.5 390.8V398.3M1062.5 409.9V418.7M1064.5 361.8V378.3M1065.5 365.1V381.1M1068.5 386.0V397.6M1074.5 361.8V379.4M1075.5 365.3V382.4M1077.5 385.9V394.8M1080.5 348.0V362.9M1081.5 351.0V365.4M1085.5 382.0V393.0M1100.5 314.0V326.2M1101.5 316.4V328.2M1107.5 338.6V348.0M1112.5 307.6V318.0M1113.5 309.7V319.8M1122.5 336.4V342.5M1127.5 327.8V335.0M1128.5 329.2V336.2M1133.5 359.2V369.0M1140.5 349.0V357.8M1141.5 350.8V359.2M1141.5 425.8V519.0M1150.5 374.6V383.4M1151.5 376.4V384.9M1153.5 406.6V418.7M1157.5 327.8V351.5M1158.5 332.5V355.4M1159.5 362.1V373.7M340.5 208.0V300.0M226.5 455.0V494.0M517.5 390.0V445.0M714.5 425.0V450.0M868.5 345.0V392.0M925.5 380.0V418.0M1016.5 332.0V375.4M1141.5 363.0V519.0M338.5 185.0V276.0M355.5 250.0V292.6M403.5 235.0V264.4M439.5 262.0V299.4M535.5 430.0V459.4M608.5 388.0V419.0M748.5 395.0V424.0M843.5 306.0V373.0M1035.5 382.0V400.4M1048.5 400.0V423.0M1153.5 400.0V418.7M1157.5 328.0V367.0M241.5 508.0V534.0M478.5 336.0V364.8M994.5 285.0V317.2M975.5 325.0V358.8" stroke="#1d1050" stroke-width="1" fill="none" shape-rendering="crispEdges"/>
<line x1="1050.8" y1="398.5" x2="1049.2" y2="413.5" stroke="#7e57c2" stroke-width="1.3"/>
<g stroke="#0a0a0a" stroke-width="1.4" fill="none">
<line x1="294.2" y1="187.6" x2="297.1" y2="217.8"/>
<line x1="290.3" y1="271.2" x2="297.1" y2="261.5"/>
<line x1="309.3" y1="222.6" x2="324.3" y2="214.8"/>
<line x1="318.5" y1="169.2" x2="325.3" y2="175.4"/>
<line x1="397.2" y1="208.0" x2="402.0" y2="241.0"/>
<line x1="391.0" y1="240.5" x2="403.0" y2="263.4"/>
<line x1="402.0" y1="241.0" x2="405.5" y2="237.5"/>
<line x1="413.6" y1="225.6" x2="418.4" y2="222.0"/>
<line x1="520.9" y1="387.3" x2="528.9" y2="394.6"/>
<line x1="523.0" y1="424.4" x2="530.7" y2="412.7"/>
<line x1="620.0" y1="380.2" x2="652.4" y2="364.5"/>
<line x1="630.5" y1="416.3" x2="658.9" y2="383.5"/>
<line x1="752.0" y1="412.6" x2="761.7" y2="428.0"/>
<line x1="748.8" y1="423.6" x2="760.1" y2="434.5"/>
<line x1="798.2" y1="379.4" x2="803.9" y2="384.3"/>
<line x1="798.2" y1="394.8" x2="803.9" y2="392.9"/>
</g>
<circle cx="250.4" cy="407.0" r="10.9" fill="none" stroke="#1a9e8a" stroke-width="1.15"/>
<text x="250.4" y="412.4" text-anchor="middle" font-size="15px" fill="#1a9e8a">i</text>
<circle cx="259.4" cy="491.2" r="10.9" fill="none" stroke="#1a9e8a" stroke-width="1.15"/>
<text x="259.4" y="496.6" text-anchor="middle" font-size="15px" fill="#1a9e8a">ii</text>
<circle cx="309.7" cy="170.5" r="10.9" fill="none" stroke="#1a9e8a" stroke-width="1.15"/>
<text x="309.7" y="175.9" text-anchor="middle" font-size="15px" fill="#1a9e8a">iii</text>
<circle cx="325.7" cy="231.8" r="10.9" fill="none" stroke="#1a9e8a" stroke-width="1.15"/>
<text x="325.7" y="237.2" text-anchor="middle" font-size="15px" fill="#1a9e8a">iv</text>
<circle cx="330.4" cy="137.4" r="10.9" fill="none" stroke="#1a9e8a" stroke-width="1.15"/>
<text x="330.4" y="142.8" text-anchor="middle" font-size="15px" fill="#1a9e8a">v</text>
<circle cx="340.8" cy="315.0" r="10.9" fill="none" stroke="#1a9e8a" stroke-width="1.15"/>
<text x="340.8" y="320.4" text-anchor="middle" font-size="15px" fill="#1a9e8a">a</text>
<circle cx="392.3" cy="183.2" r="10.9" fill="none" stroke="#1a9e8a" stroke-width="1.15"/>
<text x="392.3" y="188.6" text-anchor="middle" font-size="15px" fill="#1a9e8a">b</text>
<circle cx="536.5" cy="476.3" r="10.9" fill="none" stroke="#1a9e8a" stroke-width="1.15"/>
<text x="536.5" y="481.7" text-anchor="middle" font-size="15px" fill="#1a9e8a">c</text>
<circle cx="557.4" cy="315.5" r="10.9" fill="none" stroke="#1a9e8a" stroke-width="1.15"/>
<text x="557.4" y="320.9" text-anchor="middle" font-size="15px" fill="#1a9e8a">w</text>
<circle cx="714.8" cy="464.5" r="10.9" fill="none" stroke="#1a9e8a" stroke-width="1.15"/>
<text x="714.8" y="469.9" text-anchor="middle" font-size="15px" fill="#1a9e8a">x</text>
<circle cx="849.3" cy="255.4" r="10.9" fill="none" stroke="#1a9e8a" stroke-width="1.15"/>
<text x="849.3" y="260.8" text-anchor="middle" font-size="15px" fill="#1a9e8a">y</text>
<circle cx="926.5" cy="437.7" r="10.9" fill="none" stroke="#1a9e8a" stroke-width="1.15"/>
<text x="926.5" y="443.1" text-anchor="middle" font-size="15px" fill="#1a9e8a">x</text>
<circle cx="988.4" cy="233.4" r="10.9" fill="none" stroke="#1a9e8a" stroke-width="1.15"/>
<text x="988.4" y="238.8" text-anchor="middle" font-size="15px" fill="#1a9e8a">z</text>
<circle cx="1047.6" cy="442.0" r="10.9" fill="none" stroke="#2bbdd2" stroke-width="1.15"/>
<text x="1047.6" y="447.4" text-anchor="middle" font-size="15px" fill="#2bbdd2">a</text>
<circle cx="1112.5" cy="289.8" r="10.9" fill="none" stroke="#2bbdd2" stroke-width="1.15"/>
<text x="1112.5" y="295.2" text-anchor="middle" font-size="15px" fill="#2bbdd2">b</text>
<circle cx="1142.6" cy="535.5" r="10.9" fill="none" stroke="#2bbdd2" stroke-width="1.15"/>
<text x="1142.6" y="540.9" text-anchor="middle" font-size="15px" fill="#2bbdd2">c</text>
<path d="M171.6 833.3L180.4 823.8Q184.3 820.8 191.3 825.3V815.8H187.4Q187.2 811.4 191.2 811.4Q195.2 811.4 195.2 815.8V825.5Q195.2 829.5 191.1 831.6V836.2H187.5V833H182.1V836.2H178.5V833.2Z" fill="none" stroke="#111" stroke-width="1.3" stroke-linejoin="round"/>
<path d="M1532 300.5H1576a2 2 0 0 1 2 2V314.5a2 2 0 0 1 -2 2H1532Z" fill="#ff9800"/>
<text class="ax" x="1540.2" y="312.5" style="fill:#000">12.300</text>
<path d="M1532 359.5H1586a2 2 0 0 1 2 2V386.5a2 2 0 0 1 -2 2H1532Z" fill="#1d1050"/>
<text class="ax" x="1540.2" y="372" style="fill:#fff">7.356</text>
<text class="ax" x="1540.2" y="385" style="fill:#d6d3e6">19:03:55</text>
<path d="M1532 526.5H1570a2 2 0 0 1 2 2V540.5a2 2 0 0 1 -2 2H1532Z" fill="#000"/>
<text class="ax" x="1540.2" y="538.5" style="fill:#fff">1.760</text>
<circle cx="36.4" cy="852.6" r="9.3" fill="#f4f4f4"/>
<circle cx="1562.6" cy="852.6" r="9.3" fill="#f4f4f4"/>
<path d="M12 888.5H24.5V903H18.5V894.5H12Z" fill="#111"/><circle cx="28.6" cy="891.3" r="2.9" fill="#111"/><path d="M33.8 888.5H41.5L35.3 903H27.8Z" fill="#111"/>
<text x="48.5" y="903" font-size="20.5px" font-weight="bold" fill="#111" style="font-family:'Liberation Sans',sans-serif" textLength="121.5" lengthAdjust="spacingAndGlyphs">TradingView</text>
<text transform="translate(10.00 19.00) scale(0.902 1)" font-size="12.30px" font-weight="normal" fill="#111" style="font-family:'Liberation Sans','Noto Sans CJK SC',sans-serif">wsbza</text>
<text transform="translate(41.63 19.00) scale(1.038 1)" font-size="12.30px" font-weight="normal" fill="#111" style="font-family:'Liberation Sans','Noto Sans CJK SC',sans-serif">与</text>
<text transform="translate(53.76 19.00) scale(0.986 1)" font-size="12.30px" font-weight="normal" fill="#111" style="font-family:'Liberation Sans','Noto Sans CJK SC',sans-serif">TradingView.com</text>
<text transform="translate(145.65 19.00) scale(1.059 1)" font-size="12.30px" font-weight="normal" fill="#111" style="font-family:'Liberation Sans','Noto Sans CJK SC',sans-serif">共创，</text>
<text transform="translate(181.40 19.00) scale(1.019 1)" font-size="12.30px" font-weight="normal" fill="#111" style="font-family:'Liberation Sans','Noto Sans CJK SC',sans-serif">11月</text>
<text transform="translate(209.03 19.00) scale(0.986 1)" font-size="12.30px" font-weight="normal" fill="#111" style="font-family:'Liberation Sans','Noto Sans CJK SC',sans-serif">18,</text>
<text transform="translate(228.43 19.00) scale(0.931 1)" font-size="12.30px" font-weight="normal" fill="#111" style="font-family:'Liberation Sans','Noto Sans CJK SC',sans-serif">2025</text>
<text transform="translate(257.81 19.00) scale(0.909 1)" font-size="12.30px" font-weight="normal" fill="#111" style="font-family:'Liberation Sans','Noto Sans CJK SC',sans-serif">14:56</text>
<text transform="translate(289.74 19.00) scale(0.869 1)" font-size="12.30px" font-weight="normal" fill="#111" style="font-family:'Liberation Sans','Noto Sans CJK SC',sans-serif">UTC+10</text>
<text transform="translate(69.65 45.60) scale(0.926 1)" font-size="11.50px" font-weight="normal" fill="#111" style="font-family:'Liberation Sans','Noto Sans CJK SC',sans-serif">UNI</text>
<text transform="translate(93.70 45.60) scale(1.553 1)" font-size="11.50px" font-weight="normal" fill="#111" style="font-family:'Liberation Sans','Noto Sans CJK SC',sans-serif">/</text>
<text transform="translate(104.16 45.60) scale(1.043 1)" font-size="11.50px" font-weight="normal" fill="#111" style="font-family:'Liberation Sans','Noto Sans CJK SC',sans-serif">TetherUS</text>
<text transform="translate(165.00 45.60) scale(1.087 1)" font-size="11.50px" font-weight="normal" fill="#111" style="font-family:'Liberation Sans','Noto Sans CJK SC',sans-serif">1天</text>
<text transform="translate(195.52 45.60) scale(1.064 1)" font-size="11.50px" font-weight="normal" fill="#111" style="font-family:'Liberation Sans','Noto Sans CJK SC',sans-serif">Binance</text>
<text transform="translate(248.35 45.60) scale(0.952 1)" font-size="11.50px" font-weight="normal" fill="#111" style="font-family:'Liberation Sans','Noto Sans CJK SC',sans-serif">开=</text>
<text transform="translate(265.53 45.60) scale(0.986 1)" font-size="11.50px" font-weight="normal" fill="#1d1050" style="font-family:'Liberation Sans','Noto Sans CJK SC',sans-serif">7.422</text>
<text transform="translate(301.81 45.60) scale(1.006 1)" font-size="11.50px" font-weight="normal" fill="#111" style="font-family:'Liberation Sans','Noto Sans CJK SC',sans-serif">高=</text>
<text transform="translate(319.73 45.60) scale(0.985 1)" font-size="11.50px" font-weight="normal" fill="#1d1050" style="font-family:'Liberation Sans','Noto Sans CJK SC',sans-serif">7.594</text>
<text transform="translate(356.06 45.60) scale(0.974 1)" font-size="11.50px" font-weight="normal" fill="#111" style="font-family:'Liberation Sans','Noto Sans CJK SC',sans-serif">低=</text>
<text transform="translate(373.33 45.60) scale(0.992 1)" font-size="11.50px" font-weight="normal" fill="#1d1050" style="font-family:'Liberation Sans','Noto Sans CJK SC',sans-serif">7.253</text>
<text transform="translate(409.94 45.60) scale(0.958 1)" font-size="11.50px" font-weight="normal" fill="#111" style="font-family:'Liberation Sans','Noto Sans CJK SC',sans-serif">收=</text>
<text transform="translate(427.44 45.60) scale(0.974 1)" font-size="11.50px" font-weight="normal" fill="#1d1050" style="font-family:'Liberation Sans','Noto Sans CJK SC',sans-serif">7.356</text>
<text transform="translate(70.38 62.60) scale(1.022 1)" font-size="11.50px" font-weight="normal" fill="#111" style="font-family:'Liberation Sans','Noto Sans CJK SC',sans-serif">Watermark</text>
<text transform="translate(158.36 45.42) scale(1.000 1)" font-size="11.11px" font-weight="normal" fill="#111" style="font-family:'Liberation Sans','Noto Sans CJK SC',sans-serif">•</text>
<text transform="translate(188.26 45.42) scale(1.000 1)" font-size="11.11px" font-weight="normal" fill="#111" style="font-family:'Liberation Sans','Noto Sans CJK SC',sans-serif">•</text>
<text transform="translate(318.75 94.66) scale(0.866 1)" font-size="20.21px" font-weight="normal" fill="#ff00ff" stroke="#ff00ff" stroke-width="0.2" style="font-family:'Liberation Sans','Noto Sans CJK SC',sans-serif">(1)?</text>
<text transform="translate(324.35 117.81) scale(0.808 1)" font-size="18.57px" font-weight="bold" fill="#0000ff" style="font-family:'Liberation Sans','Noto Sans CJK SC',sans-serif">5</text>
<text transform="translate(212.50 278.02) scale(0.830 1)" font-size="18.31px" font-weight="bold" fill="#0000ff" style="font-family:'Liberation Sans','Noto Sans CJK SC',sans-serif">3</text>
<text transform="translate(90.91 674.00) scale(0.728 1)" font-size="18.12px" font-weight="bold" fill="#0000ff" style="font-family:'Liberation Sans','Noto Sans CJK SC',sans-serif">1</text>
<text transform="translate(184.77 793.00) scale(0.806 1)" font-size="17.71px" font-weight="bold" fill="#0000ff" style="font-family:'Liberation Sans','Noto Sans CJK SC',sans-serif">2</text>
<text transform="translate(236.45 557.20) scale(0.921 1)" font-size="18.84px" font-weight="bold" fill="#0000ff" style="font-family:'Liberation Sans','Noto Sans CJK SC',sans-serif">4</text>
<text transform="translate(528.10 506.10) scale(0.829 1)" font-size="19.13px" font-weight="bold" fill="#0000ff" style="font-family:'Liberation Sans','Noto Sans CJK SC',sans-serif">W</text>
<text transform="translate(980.74 218.20) scale(0.819 1)" font-size="19.28px" font-weight="bold" fill="#0000ff" style="font-family:'Liberation Sans','Noto Sans CJK SC',sans-serif">X</text>
<text transform="translate(1135.78 564.00) scale(0.842 1)" font-size="18.84px" font-weight="bold" fill="#0000ff" style="font-family:'Liberation Sans','Noto Sans CJK SC',sans-serif">Y</text>
<text transform="translate(1131.44 583.87) scale(0.859 1)" font-size="20.64px" font-weight="normal" fill="#ff00ff" stroke="#ff00ff" stroke-width="0.2" style="font-family:'Liberation Sans','Noto Sans CJK SC',sans-serif">(2)?</text>
<text transform="translate(1386.72 819.00) scale(0.987 1)" font-size="18.30px" font-weight="normal" fill="#000080" stroke="#000080" stroke-width="0.45" style="font-family:'DejaVu Sans',sans-serif">ewc.space</text>
<text transform="translate(733.13 466.61) scale(1.115 1)" font-size="26.13px" font-weight="normal" fill="#a2a2a2" style="font-family:'Liberation Sans',sans-serif">ewc.space</text>
<text transform="translate(24.35 54.00) scale(1.052 1)" font-size="10.80px" font-weight="normal" fill="#111" style="font-family:'Liberation Sans','Noto Sans CJK SC',sans-serif">0.000</text>
<text transform="translate(24.35 109.00) scale(1.052 1)" font-size="10.80px" font-weight="normal" fill="#111" style="font-family:'Liberation Sans','Noto Sans CJK SC',sans-serif">0.000</text>
<text transform="translate(24.35 142.00) scale(1.052 1)" font-size="10.80px" font-weight="normal" fill="#111" style="font-family:'Liberation Sans','Noto Sans CJK SC',sans-serif">0.000</text>
<text transform="translate(24.35 181.00) scale(1.052 1)" font-size="10.80px" font-weight="normal" fill="#111" style="font-family:'Liberation Sans','Noto Sans CJK SC',sans-serif">0.000</text>
<text transform="translate(24.35 226.00) scale(1.052 1)" font-size="10.80px" font-weight="normal" fill="#111" style="font-family:'Liberation Sans','Noto Sans CJK SC',sans-serif">0.000</text>
<text transform="translate(24.35 269.00) scale(1.052 1)" font-size="10.80px" font-weight="normal" fill="#111" style="font-family:'Liberation Sans','Noto Sans CJK SC',sans-serif">0.000</text>
<text transform="translate(24.35 321.00) scale(1.052 1)" font-size="10.80px" font-weight="normal" fill="#111" style="font-family:'Liberation Sans','Noto Sans CJK SC',sans-serif">0.000</text>
<text transform="translate(24.35 352.00) scale(1.052 1)" font-size="10.80px" font-weight="normal" fill="#111" style="font-family:'Liberation Sans','Noto Sans CJK SC',sans-serif">0.000</text>
<text transform="translate(24.35 387.00) scale(1.052 1)" font-size="10.80px" font-weight="normal" fill="#111" style="font-family:'Liberation Sans','Noto Sans CJK SC',sans-serif">0.000</text>
<text transform="translate(24.35 429.00) scale(1.052 1)" font-size="10.80px" font-weight="normal" fill="#111" style="font-family:'Liberation Sans','Noto Sans CJK SC',sans-serif">0.000</text>
<text transform="translate(24.35 476.00) scale(1.052 1)" font-size="10.80px" font-weight="normal" fill="#111" style="font-family:'Liberation Sans','Noto Sans CJK SC',sans-serif">0.000</text>
<text transform="translate(19.70 476.00) scale(1.148 1)" font-size="10.80px" font-weight="normal" fill="#111" style="font-family:'Liberation Sans','Noto Sans CJK SC',sans-serif">-</text>
<text transform="translate(24.35 517.00) scale(1.052 1)" font-size="10.80px" font-weight="normal" fill="#111" style="font-family:'Liberation Sans','Noto Sans CJK SC',sans-serif">0.000</text>
<text transform="translate(19.70 517.00) scale(1.148 1)" font-size="10.80px" font-weight="normal" fill="#111" style="font-family:'Liberation Sans','Noto Sans CJK SC',sans-serif">-</text>
<text transform="translate(24.35 552.00) scale(1.052 1)" font-size="10.80px" font-weight="normal" fill="#111" style="font-family:'Liberation Sans','Noto Sans CJK SC',sans-serif">0.000</text>
<text transform="translate(19.70 552.00) scale(1.148 1)" font-size="10.80px" font-weight="normal" fill="#111" style="font-family:'Liberation Sans','Noto Sans CJK SC',sans-serif">-</text>
<text transform="translate(24.35 583.00) scale(1.052 1)" font-size="10.80px" font-weight="normal" fill="#111" style="font-family:'Liberation Sans','Noto Sans CJK SC',sans-serif">0.000</text>
<text transform="translate(19.70 583.00) scale(1.148 1)" font-size="10.80px" font-weight="normal" fill="#111" style="font-family:'Liberation Sans','Noto Sans CJK SC',sans-serif">-</text>
<text transform="translate(24.35 636.00) scale(1.052 1)" font-size="10.80px" font-weight="normal" fill="#111" style="font-family:'Liberation Sans','Noto Sans CJK SC',sans-serif">0.000</text>
<text transform="translate(19.70 636.00) scale(1.148 1)" font-size="10.80px" font-weight="normal" fill="#111" style="font-family:'Liberation Sans','Noto Sans CJK SC',sans-serif">-</text>
<text transform="translate(24.35 669.00) scale(1.052 1)" font-size="10.80px" font-weight="normal" fill="#111" style="font-family:'Liberation Sans','Noto Sans CJK SC',sans-serif">0.000</text>
<text transform="translate(19.70 669.00) scale(1.148 1)" font-size="10.80px" font-weight="normal" fill="#111" style="font-family:'Liberation Sans','Noto Sans CJK SC',sans-serif">-</text>
<text transform="translate(24.35 698.00) scale(1.052 1)" font-size="10.80px" font-weight="normal" fill="#111" style="font-family:'Liberation Sans','Noto Sans CJK SC',sans-serif">0.000</text>
<text transform="translate(19.70 698.00) scale(1.148 1)" font-size="10.80px" font-weight="normal" fill="#111" style="font-family:'Liberation Sans','Noto Sans CJK SC',sans-serif">-</text>
<text transform="translate(24.35 732.00) scale(1.052 1)" font-size="10.80px" font-weight="normal" fill="#111" style="font-family:'Liberation Sans','Noto Sans CJK SC',sans-serif">0.000</text>
<text transform="translate(19.70 732.00) scale(1.148 1)" font-size="10.80px" font-weight="normal" fill="#111" style="font-family:'Liberation Sans','Noto Sans CJK SC',sans-serif">-</text>
<text transform="translate(24.35 762.00) scale(1.052 1)" font-size="10.80px" font-weight="normal" fill="#111" style="font-family:'Liberation Sans','Noto Sans CJK SC',sans-serif">0.000</text>
<text transform="translate(19.70 762.00) scale(1.148 1)" font-size="10.80px" font-weight="normal" fill="#111" style="font-family:'Liberation Sans','Noto Sans CJK SC',sans-serif">-</text>
<text transform="translate(24.35 792.00) scale(1.052 1)" font-size="10.80px" font-weight="normal" fill="#111" style="font-family:'Liberation Sans','Noto Sans CJK SC',sans-serif">0.000</text>
<text transform="translate(19.70 792.00) scale(1.148 1)" font-size="10.80px" font-weight="normal" fill="#111" style="font-family:'Liberation Sans','Noto Sans CJK SC',sans-serif">-</text>
<text transform="translate(24.35 821.00) scale(1.052 1)" font-size="10.80px" font-weight="normal" fill="#111" style="font-family:'Liberation Sans','Noto Sans CJK SC',sans-serif">0.000</text>
<text transform="translate(19.70 821.00) scale(1.148 1)" font-size="10.80px" font-weight="normal" fill="#111" style="font-family:'Liberation Sans','Noto Sans CJK SC',sans-serif">-</text>
<text transform="translate(33.62 856.90) scale(0.836 1)" font-size="11.30px" font-weight="normal" fill="#3a3a3a" style="font-family:'Liberation Sans','Noto Sans CJK SC',sans-serif">Z</text>
<text transform="translate(1559.80 857.00) scale(0.719 1)" font-size="11.59px" font-weight="normal" fill="#3a3a3a" style="font-family:'Liberation Sans','Noto Sans CJK SC',sans-serif">A</text>
</svg></body></html>
